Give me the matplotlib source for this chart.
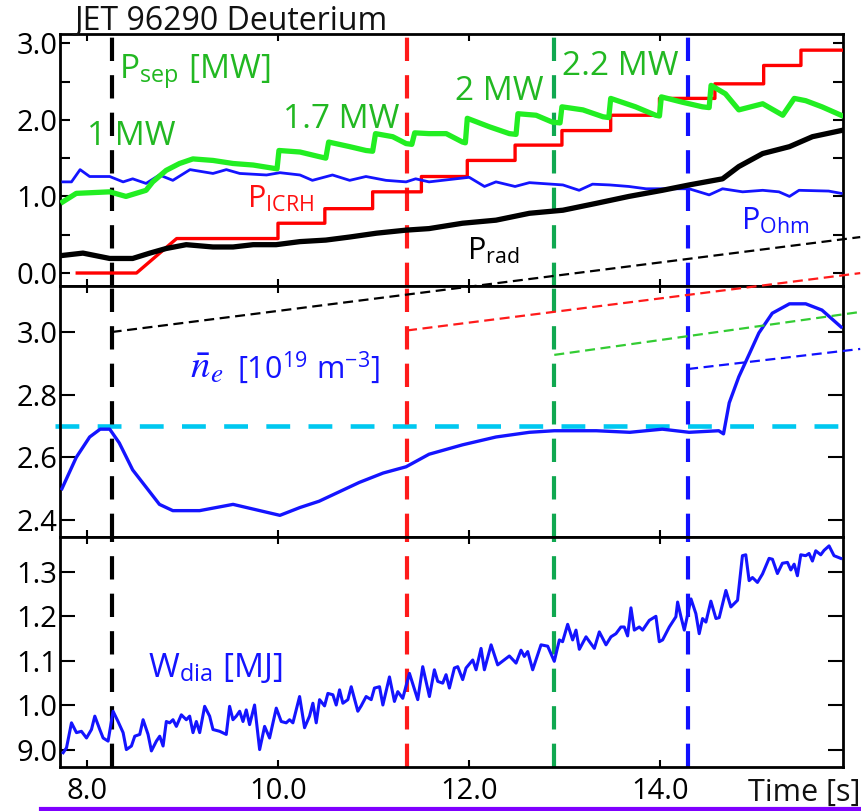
import numpy as np
import matplotlib
matplotlib.use('Agg')
import matplotlib.pyplot as plt

plt.rcParams['font.family'] = ['Open Sans', 'DejaVu Sans']
plt.rcParams['mathtext.fontset'] = 'custom'
plt.rcParams['mathtext.rm'] = 'Open Sans'
plt.rcParams['mathtext.it'] = 'STIXGeneral:italic'
plt.rcParams['mathtext.bf'] = 'Open Sans:bold'

# --- data ---
# P_sep (green), MW
psep_t = [7.75, 7.89, 8.24, 8.41, 8.62, 8.69, 8.83, 8.97, 9.11, 9.32, 9.53, 9.74, 9.99, 10.01, 10.23,
          10.43, 10.50, 10.53, 10.75, 10.92, 10.99, 11.02, 11.20, 11.34, 11.40, 11.43, 11.58, 11.76,
          11.93, 11.96, 11.98, 12.21, 12.42, 12.49, 12.51, 12.70, 12.87, 12.95, 12.97, 13.19, 13.40,
          13.46, 13.48, 13.74, 13.95, 13.99, 14.01, 14.23, 14.44, 14.51, 14.53, 14.68, 14.82, 15.07,
          15.28, 15.40, 15.52, 15.69, 15.89]
psep_v = [0.93, 1.04, 1.06, 1.00, 1.08, 1.19, 1.34, 1.43, 1.49, 1.47, 1.43, 1.41, 1.36, 1.60, 1.58,
          1.52, 1.50, 1.71, 1.65, 1.60, 1.59, 1.82, 1.78, 1.69, 1.68, 1.83, 1.82, 1.82,
          1.71, 1.70, 2.02, 1.91, 1.82, 1.81, 2.08, 2.06, 1.97, 1.96, 2.17, 2.13, 2.04,
          2.03, 2.28, 2.17, 2.06, 2.05, 2.30, 2.23, 2.17, 2.16, 2.45, 2.34, 2.13, 2.21,
          2.06, 2.28, 2.25, 2.17, 2.06]

# P_ICRH (red), MW - step waveform
icrh_t = [7.90, 8.52, 8.94, 10.00, 10.00, 10.49, 10.49, 10.99, 10.99, 11.50, 11.50, 11.98, 11.98,
          12.48, 12.48, 12.97, 12.97, 13.48, 13.48, 13.99, 13.99, 14.57, 14.57, 15.08, 15.08,
          15.47, 15.47, 15.90]
icrh_v = [0.0, 0.0, 0.45, 0.45, 0.65, 0.65, 0.84, 0.84, 1.06, 1.06, 1.26, 1.26, 1.47,
          1.47, 1.67, 1.67, 1.86, 1.86, 2.06, 2.06, 2.28, 2.28, 2.47, 2.47, 2.71,
          2.71, 2.91, 2.91]

# P_Ohm (blue), MW
pohm_t = [7.75, 7.84, 7.93, 8.03, 8.24, 8.38, 8.48, 8.62, 8.76, 8.90, 9.08, 9.32, 9.46, 9.60, 9.88,
          10.02, 10.23, 10.36, 10.57, 10.75, 10.92, 11.13, 11.34, 11.44, 11.58, 12.00, 12.16, 12.28,
          12.48, 12.63, 12.98, 13.15, 13.29, 13.47, 13.67, 13.85, 14.30, 14.51, 14.65, 14.86, 15.07,
          15.24, 15.35, 15.45, 15.76, 15.89]
pohm_v = [1.19, 1.19, 1.35, 1.26, 1.26, 1.19, 1.23, 1.17, 1.28, 1.21, 1.35, 1.30, 1.35, 1.30, 1.28,
          1.31, 1.28, 1.21, 1.28, 1.21, 1.26, 1.21, 1.19, 1.23, 1.19, 1.25, 1.13, 1.19,
          1.13, 1.18, 1.15, 1.08, 1.16, 1.15, 1.13, 1.10, 1.10, 1.02, 1.10, 1.06, 1.08,
          1.06, 1.00, 1.08, 1.07, 1.04]

# P_rad (black), MW
prad_t = [7.75, 7.96, 8.24, 8.48, 8.66, 8.83, 9.04, 9.32, 9.53, 9.74, 9.98, 10.23, 10.50, 10.75,
          11.03, 11.34, 11.58, 11.93, 12.28, 12.63, 12.98, 13.33, 13.67, 14.02, 14.30, 14.65,
          14.82, 15.07, 15.35, 15.59, 15.89]
prad_v = [0.23, 0.26, 0.19, 0.19, 0.26, 0.32, 0.37, 0.34, 0.34, 0.37, 0.37, 0.41, 0.43, 0.47,
          0.52, 0.56, 0.58, 0.65, 0.69, 0.78, 0.82, 0.91, 1.00, 1.08, 1.15, 1.23,
          1.39, 1.56, 1.65, 1.78, 1.86]

# line averaged density, 1e19 m^-3
ne_t = [7.74, 7.89, 8.03, 8.14, 8.24, 8.34, 8.48, 8.62, 8.76, 8.90, 9.18, 9.53, 9.81, 10.02, 10.23,
        10.43, 10.57, 10.85, 11.10, 11.34, 11.58, 11.93, 12.28, 12.63, 12.89, 13.33, 13.68, 14.02,
        14.30, 14.61, 14.66, 14.72, 14.82, 14.93, 15.03, 15.17, 15.35, 15.52, 15.69, 15.89]
ne_v = [2.50, 2.60, 2.665, 2.69, 2.69, 2.646, 2.56, 2.505, 2.45, 2.43, 2.43, 2.45, 2.43, 2.415, 2.44,
        2.46, 2.48, 2.52, 2.55, 2.57, 2.61, 2.64, 2.665, 2.68, 2.685, 2.685, 2.68, 2.69,
        2.68, 2.685, 2.675, 2.774, 2.857, 2.93, 2.997, 3.06, 3.09, 3.09, 3.07, 3.016]

# W_dia, MJ
wdia_t = [7.753, 7.788, 7.840, 7.892, 7.944, 7.997, 8.049, 8.084, 8.136, 8.171, 8.223, 8.275, 8.327,
          8.380, 8.414, 8.467, 8.502, 8.554, 8.589, 8.641, 8.676, 8.728, 8.763, 8.798, 8.832, 8.867,
          8.902, 8.937, 8.989, 9.041, 9.076, 9.111, 9.146, 9.181, 9.233, 9.285, 9.320, 9.390, 9.459,
          9.494, 9.529, 9.564, 9.599, 9.634, 9.668, 9.703, 9.755, 9.808, 9.860, 9.912, 9.982, 10.034,
          10.086, 10.121, 10.156, 10.226, 10.278, 10.330, 10.365, 10.400, 10.435, 10.487, 10.522,
          10.574, 10.609, 10.644, 10.679, 10.731, 10.766, 10.835, 10.870, 10.922, 10.975, 11.009,
          11.062, 11.097, 11.166, 11.218, 11.253, 11.305, 11.375, 11.462, 11.514, 11.584, 11.636,
          11.671, 11.723, 11.758, 11.793, 11.845, 11.880, 11.932, 11.967, 12.037, 12.072, 12.124,
          12.159, 12.229, 12.298, 12.420, 12.490, 12.542, 12.577, 12.612, 12.664, 12.751, 12.821,
          12.890, 12.943, 12.977, 13.030, 13.082, 13.117, 13.152, 13.222, 13.309, 13.361, 13.431,
          13.483, 13.535, 13.587, 13.622, 13.657, 13.692, 13.727, 13.779, 13.814, 13.884, 13.953,
          13.988, 14.023, 14.093, 14.162, 14.180, 14.215, 14.250, 14.320, 14.371, 14.406, 14.441,
          14.476, 14.528, 14.581, 14.615, 14.685, 14.737, 14.807, 14.858, 14.893, 14.928, 14.963,
          15.015, 15.068, 15.137, 15.172, 15.224, 15.276, 15.329, 15.364, 15.399, 15.433, 15.468,
          15.520, 15.555, 15.590, 15.625, 15.677, 15.712, 15.764, 15.816, 15.886]
wdia_v = [0.894, 0.905, 0.961, 0.939, 0.942, 0.927, 0.946, 0.976, 0.946, 0.927, 0.920, 0.987, 0.964,
          0.939, 0.901, 0.909, 0.931, 0.935, 0.968, 0.935, 0.898, 0.920, 0.931, 0.909, 0.964, 0.961,
          0.968, 0.953, 0.979, 0.968, 0.976, 0.939, 0.964, 0.939, 0.998, 0.976, 0.946, 0.942, 0.935,
          0.998, 0.968, 0.976, 0.987, 0.964, 0.990, 0.957, 1.001, 0.901, 0.953, 0.927, 0.994, 0.964,
          0.961, 0.968, 0.961, 1.020, 0.950, 0.976, 1.005, 0.961, 1.013, 0.999, 1.027,
          1.024, 1.001, 1.035, 1.005, 1.013, 1.042, 0.987, 0.999, 1.020, 1.013, 1.039,
          1.042, 1.001, 1.064, 1.009, 1.031, 1.016, 1.072, 1.013, 1.087, 1.020, 1.080,
          1.054, 1.050, 1.069, 1.039, 1.084, 1.087, 1.058, 1.084, 1.102, 1.080, 1.128,
          1.080, 1.136, 1.091, 1.111, 1.095, 1.124, 1.110, 1.121, 1.080, 1.136, 1.133,
          1.099, 1.147, 1.143, 1.182, 1.147, 1.169, 1.126, 1.154, 1.128, 1.165, 1.136,
          1.154, 1.161, 1.176, 1.176, 1.156, 1.219, 1.169, 1.176, 1.169, 1.191, 1.200,
          1.143, 1.147, 1.176, 1.199, 1.232, 1.199, 1.169, 1.239, 1.206, 1.161, 1.195,
          1.187, 1.234, 1.195, 1.197, 1.258, 1.221, 1.236, 1.336, 1.338, 1.280, 1.287,
          1.276, 1.295, 1.330, 1.328, 1.296, 1.319, 1.321, 1.304, 1.317, 1.291, 1.338,
          1.336, 1.341, 1.324, 1.347, 1.338, 1.348, 1.358, 1.336, 1.330]

# event times (vertical dashed lines) and their colours
event_t = [8.26, 11.35, 12.89, 14.29]
event_c = ['black', '#ff1a1a', '#10a850', '#1010ff']
# sloped guide lines in the density panel: start level and level at t_end
guide_y0 = [3.0, 3.005, 2.927, 2.882]
guide_t1 = 16.09
guide_y1 = [3.303, 3.188, 3.064, 2.946]
guide_c = ['black', '#ff1a1a', '#33cc33', '#1010ff']
ne_ref = 2.70

GREEN_TXT = '#22b822'
BLUE = '#1414ff'
ANN = 24

fig = plt.figure(figsize=(8.61, 8.11), dpi=100)
ax1 = fig.add_axes([0.0697, 0.6473, 0.9094, 0.3107])
ax2 = fig.add_axes([0.0697, 0.3379, 0.9094, 0.3095])
ax3 = fig.add_axes([0.0697, 0.0543, 0.9094, 0.2836])

# panel 1: powers
ax1.plot(icrh_t, icrh_v, color='#ff0000', lw=2.4, zorder=3)
ax1.plot(pohm_t, pohm_v, color=BLUE, lw=2.0, zorder=3)
ax1.plot(psep_t, psep_v, color='#22ee22', lw=3.8, zorder=4)
ax1.plot(prad_t, prad_v, color='black', lw=3.8, zorder=4)
ax1.set_ylim(-0.17, 3.12)
ax1.set_yticks([0, 1, 2, 3])
ax1.set_yticklabels(['0.0', '1.0', '2.0', '3.0'])
ax1.set_yticks([0.5, 1.5, 2.5], minor=True)

ax1.text(8.34, 2.54, r'P$_{\mathrm{sep}}$ [MW]', color=GREEN_TXT, fontsize=ANN, va='baseline')
ax1.text(8.00, 1.67, '1 MW', color=GREEN_TXT, fontsize=ANN, va='baseline')
ax1.text(10.05, 1.90, '1.7 MW', color=GREEN_TXT, fontsize=ANN, va='baseline')
ax1.text(11.85, 2.26, '2 MW', color=GREEN_TXT, fontsize=ANN, va='baseline')
ax1.text(12.97, 2.59, '2.2 MW', color=GREEN_TXT, fontsize=ANN, va='baseline')
ax1.text(9.68, 0.85, r'P$_{\mathrm{ICRH}}$', color='#ff1010', fontsize=22, va='baseline', zorder=6)
ax1.text(11.98, 0.17, r'P$_{\mathrm{rad}}$', color='black', fontsize=22, va='baseline', zorder=6)
ax1.text(14.84, 0.56, r'P$_{\mathrm{Ohm}}$', color=BLUE, fontsize=22, va='baseline', zorder=6)

# panel 2: density
ax2.plot(ne_t, ne_v, color=BLUE, lw=2.4, zorder=3)
ax2.axhline(ne_ref, xmin=-0.007, xmax=1.0, color='#00c8f0', lw=3.3,
            dashes=(5.2, 4.0), clip_on=False, zorder=2)
for t0, y0, y1, c in zip(event_t, guide_y0, guide_y1, guide_c):
    ax2.plot([t0, guide_t1], [y0, y1], color=c, lw=1.6, dashes=(4.5, 2.5),
             clip_on=False, zorder=5)
ax2.set_ylim(2.346, 3.147)
ax2.set_yticks([2.4, 2.6, 2.8, 3.0])
ax2.set_yticklabels(['2.4', '2.6', '2.8', '3.0'])
ax2.text(9.08, 2.853, r'$\bar{n}_e$', color=BLUE, fontsize=28, va='baseline')
ax2.text(9.57, 2.853, r'[10$^{19}$ m$^{\mathrm{-3}}$]', color=BLUE, fontsize=22, va='baseline')

# panel 3: stored energy
ax3.plot(wdia_t, wdia_v, color=BLUE, lw=2.2, zorder=3)
ax3.set_ylim(0.862, 1.378)
ax3.set_yticks([0.9, 1.0, 1.1, 1.2, 1.3])
ax3.set_yticklabels(['9.0', '1.0', '1.1', '1.2', '1.3'])
ax3.text(8.64, 1.064, r'W$_{\mathrm{dia}}$ [MJ]', color=BLUE, fontsize=ANN, va='baseline')

for ax in (ax1, ax2, ax3):
    for t, c in zip(event_t, event_c):
        ax.axvline(t, color=c, lw=3.0, dashes=(5.6, 3.4), zorder=2)
    ax.set_xlim(7.72, 15.91)
    ax.set_xticks([8, 10, 12, 14])
    for s in ax.spines.values():
        s.set_linewidth(2.0)
    ax.tick_params(axis='x', direction='in', top=True, bottom=True, length=5, width=1.5,
                   labelsize=21, pad=7)
    ax.tick_params(axis='y', which='both', direction='in', left=True, right=True,
                   length=11, width=1.5, labelsize=21, pad=2)
ax1.tick_params(axis='y', which='both', length=7)
ax1.tick_params(axis='x', labelbottom=False)
ax2.tick_params(axis='x', labelbottom=False)
ax3.set_xticklabels(['8.0', '10.0', '12.0', '14.0'])

fig.text(0.087, 0.963, 'JET 96290 Deuterium', fontsize=23, color='#111111', va='baseline')
fig.text(0.869, 0.012, 'Time [s]', fontsize=22, color='#111111', va='baseline')
fig.add_artist(plt.Line2D([0.048, 1.0], [0.0025, 0.0025], color='#7f00ff', lw=3.0,
                          transform=fig.transFigure))

fig.savefig('out.png', dpi=100)
